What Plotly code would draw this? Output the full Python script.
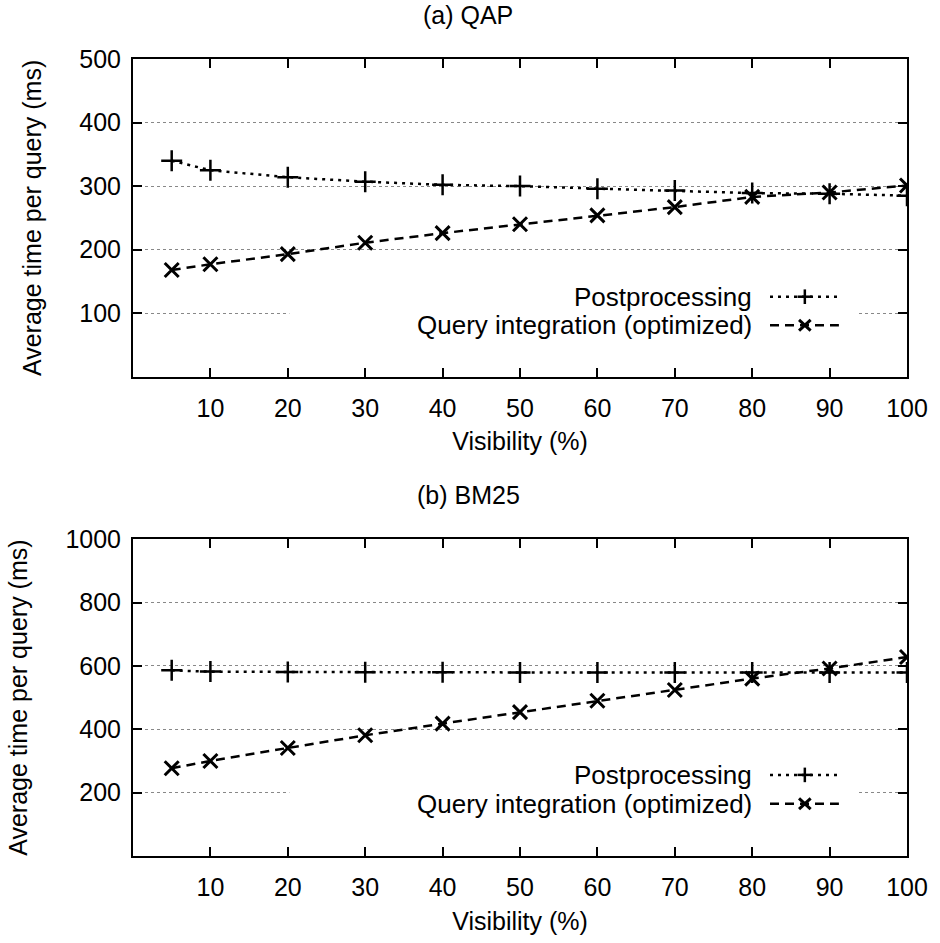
import plotly.graph_objects as go

# ---- data ----
visibility = [5, 10, 20, 30, 40, 50, 60, 70, 80, 90, 100]

qap_post = [340, 325, 314, 307, 302, 300, 296, 293, 289, 288, 285]
qap_query = [168, 177, 193, 211, 226, 240, 254, 267, 283, 290, 301]

bm25_post = [586, 582, 581, 580, 580, 579, 579, 579, 579, 579, 579]
bm25_query = [277, 300, 341, 381, 418, 454, 490, 524, 560, 592, 628]

series_names = ["Postprocessing", "Query integration (optimized)"]
titles = ["(a) QAP", "(b) BM25"]
x_ticks = [10, 20, 30, 40, 50, 60, 70, 80, 90, 100]
y_ticks_a = [100, 200, 300, 400, 500]
y_ticks_b = [200, 400, 600, 800, 1000]

FONT = "Liberation Sans, Arial, Helvetica, sans-serif"
FS = 25
FS_KEY = 26

fig = go.Figure()

post_style = dict(
    mode="lines+markers",
    line=dict(color="black", width=2.5, dash="3px,5px"),
    marker=dict(symbol="cross-thin", size=15, line=dict(width=2.5, color="black")),
    showlegend=False,
)
query_style = dict(
    mode="lines+markers",
    line=dict(color="black", width=2.5, dash="9px,6px"),
    marker=dict(symbol="x-thin", size=14, line=dict(width=3, color="black")),
    showlegend=False,
)

fig.add_trace(go.Scatter(x=visibility, y=qap_post, name=series_names[0], xaxis="x", yaxis="y", **post_style))
fig.add_trace(go.Scatter(x=visibility, y=qap_query, name=series_names[1], xaxis="x", yaxis="y", **query_style))
fig.add_trace(go.Scatter(x=visibility, y=bm25_post, name=series_names[0], xaxis="x2", yaxis="y2", **post_style))
fig.add_trace(go.Scatter(x=visibility, y=bm25_query, name=series_names[1], xaxis="x2", yaxis="y2", **query_style))

common_x = dict(
    range=[0, 100], tickvals=x_ticks, ticks="inside", ticklen=9, tickwidth=2,
    tickcolor="black", showline=True, linecolor="black", linewidth=2,
    mirror="ticks", showgrid=False, zeroline=False,
    tickfont=dict(family=FONT, size=FS, color="black"),
    title=dict(text="Visibility (%)", font=dict(family=FONT, size=FS, color="black"), standoff=12),
    ticklabelstandoff=8,
)
common_y = dict(
    ticks="inside", ticklen=9, tickwidth=2, tickcolor="black",
    showline=True, linecolor="black", linewidth=2, mirror="ticks",
    showgrid=True, gridcolor="#888888", griddash="dot", gridwidth=1,
    zeroline=False,
    tickfont=dict(family=FONT, size=FS, color="black"),
    title=dict(text="Average time per query (ms)", font=dict(family=FONT, size=FS, color="black"), standoff=31),
    ticklabelstandoff=5,
)

fig.update_layout(
    width=940, height=943,
    margin=dict(l=133, r=29, t=59, b=84),
    paper_bgcolor="white", plot_bgcolor="white",
    font=dict(family=FONT, size=FS, color="black"),
    xaxis=dict(domain=[0, 1], anchor="y", **common_x),
    yaxis=dict(domain=[0.60125, 1.0], anchor="x", range=[0, 500], tickvals=y_ticks_a, **common_y),
    xaxis2=dict(domain=[0, 1], anchor="y2", **common_x),
    yaxis2=dict(domain=[0, 0.3975], anchor="x2", range=[0, 1000], tickvals=y_ticks_b, **common_y),
)

# titles
for txt, yp in zip(titles, [1.055, 0.4525]):
    fig.add_annotation(text=txt, xref="paper", yref="paper", x=0.433, y=yp,
                       xanchor="center", yanchor="middle", showarrow=False,
                       font=dict(family=FONT, size=FS, color="black"))

# keys drawn in axis-domain coordinates
shapes = []
key_rows = [[0.252, 0.162], [0.256, 0.165]]
for (xr, yr), rows in zip([("x domain", "y domain"), ("x2 domain", "y2 domain")], key_rows):
    shapes.append(dict(type="rect", xref=xr, yref=yr, x0=0.202, x1=0.937, y0=0.10, y1=0.30,
                       fillcolor="white", line=dict(width=0), layer="above"))
    x0s, x1s, xm = 0.823, 0.912, 0.868
    # Postprocessing sample
    shapes.append(dict(type="line", xref=xr, yref=yr, x0=x0s, x1=x1s, y0=rows[0], y1=rows[0],
                       line=dict(color="black", width=2.5, dash="3px,5px"), layer="above"))
    shapes.append(dict(type="line", xref=xr, yref=yr, x0=xm - 0.0095, x1=xm + 0.0095, y0=rows[0], y1=rows[0],
                       line=dict(color="black", width=2.5), layer="above"))
    shapes.append(dict(type="line", xref=xr, yref=yr, x0=xm, x1=xm, y0=rows[0] - 0.023, y1=rows[0] + 0.023,
                       line=dict(color="black", width=2.5), layer="above"))
    # Query sample
    shapes.append(dict(type="line", xref=xr, yref=yr, x0=x0s, x1=x1s, y0=rows[1], y1=rows[1],
                       line=dict(color="black", width=2.5, dash="9px,6px"), layer="above"))
    shapes.append(dict(type="line", xref=xr, yref=yr, x0=xm - 0.0075, x1=xm + 0.0075, y0=rows[1] - 0.017, y1=rows[1] + 0.017,
                       line=dict(color="black", width=3), layer="above"))
    shapes.append(dict(type="line", xref=xr, yref=yr, x0=xm - 0.0075, x1=xm + 0.0075, y0=rows[1] + 0.017, y1=rows[1] - 0.017,
                       line=dict(color="black", width=3), layer="above"))
    for name, ry in zip(series_names, rows):
        fig.add_annotation(text=name, xref=xr, yref=yr, x=0.802, y=ry, xanchor="right", yanchor="middle",
                           showarrow=False, font=dict(family=FONT, size=FS_KEY, color="black"))
fig.update_layout(shapes=shapes)

fig.write_html("out.html", config={"displayModeBar": False},
               post_script="document.body.style.margin='0px';")
